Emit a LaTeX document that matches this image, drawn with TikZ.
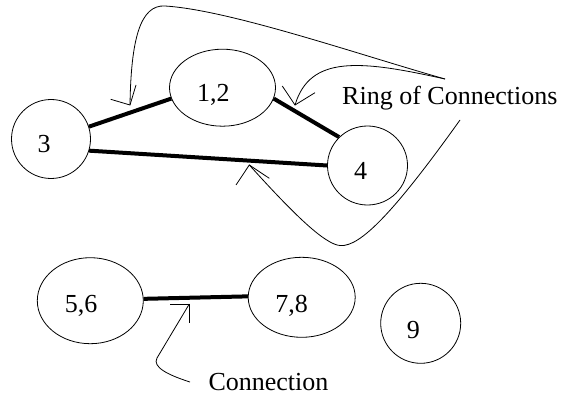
\documentclass[tikz,border=0pt]{standalone}
\usepackage{fontspec}
\setmainfont{Liberation Serif}
\usetikzlibrary{shapes.geometric}
\begin{document}
\begin{tikzpicture}[x=1pt,y=-1pt,
  every node/.style={font=\fontsize{26}{30}\selectfont},
  blob/.style={draw, ellipse, line width=0.8pt, inner sep=0pt},
  lbl/.style={anchor=base, inner sep=0pt},
  link/.style={line width=4pt},
  pointer/.style={line width=0.8pt},
]
\useasboundingbox (0,0) rectangle (561,398);

% nodes
\node[blob, minimum width=79pt, minimum height=79pt] (n3) at (51,139) {};
\node[blob, minimum width=106pt, minimum height=77pt] (n12) at (222.5,87.7) {};
\node[blob, minimum width=80pt, minimum height=79pt] (n4) at (367.5,165.5) {};
\node[blob, minimum width=106pt, minimum height=86pt] (n56) at (90.3,300.7) {};
\node[blob, minimum width=107pt, minimum height=80pt] (n78) at (301.7,297.3) {};
\node[blob, minimum width=80pt, minimum height=80pt] (n9) at (420.7,323.3) {};

% labels
\node[lbl] (l3) at (44,152.3) {3};
\node[lbl] (l12) at (213.3,101.5) {1,2};
\node[lbl] (l4) at (360.5,179.3) {4};
\node[lbl] (l56) at (81,312) {5,6};
\node[lbl] (l78) at (291.7,312.7) {7,8};
\node[lbl] (l9) at (413.3,338) {9};
\node[lbl, anchor=base west] (ring) at (342,105) {Ring of Connections};
\node[lbl, anchor=base west] (conn) at (208.3,390) {Connection};

% connections
\draw[link] (n3.18.5) -- (n12.192);
\draw[link] (n12.-12.8) -- (n4.135);
\draw[link] (n3.-17.7) -- (n4.180);
\draw[link] (n56.2.6) -- (n78.179);

% pointer coordinates
\coordinate (sRing) at (445,79);
\coordinate (sLow) at (460,120);
\coordinate (sConn) at (190,382);
\coordinate (t1) at (130,105);
\coordinate (t2) at (295,105);
\coordinate (t3) at (249.3,165);
\coordinate (t4) at (189.3,304);

% pointer curves
\draw[pointer] (sRing) .. controls (360,55) and (230,10) .. (165,6)
  .. controls (140,4.5) and (131,40) .. (t1);
\draw[pointer] (sRing) .. controls (360,60) and (310,55) .. (t2);
\draw[pointer] (sLow) .. controls (385,225) and (355,250) .. (337,245)
  .. controls (320,240) and (290,210) .. (t3);
\draw[pointer] (sConn) .. controls (168,375) and (152,367) .. (157,358) -- (t4);

% open arrowheads
\draw[pointer] (t1) ++(-19.3,-5.7) -- (t1) -- ++(6,-20);
\draw[pointer] (t2) ++(-12.7,-19) -- (t2) -- ++(20,-12.3);
\draw[pointer] (t3) ++(-13.3,20) -- (t3) -- ++(20,13.3);
\draw[pointer] (t4) ++(-19.3,0) -- (t4) -- ++(0,19.3);
\end{tikzpicture}
\end{document}
